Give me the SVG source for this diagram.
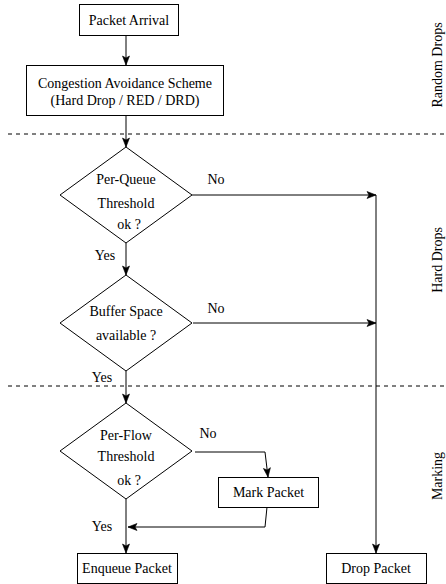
<svg xmlns="http://www.w3.org/2000/svg" width="446" height="584" viewBox="0 0 446 584">
<style>
.box{fill:#fff;stroke:#000;stroke-width:1}
.t{font-family:'Liberation Serif','Times New Roman','DejaVu Serif',serif;font-size:14px;fill:#000;text-anchor:middle}
.c{fill:none;stroke:#000;stroke-width:1}
.d{fill:none;stroke:#000;stroke-width:1;stroke-dasharray:4 4}
</style>
<defs>
<marker id="a" markerUnits="userSpaceOnUse" markerWidth="12" markerHeight="10" refX="10" refY="4" orient="auto">
<path d="M1,0.5 L10,4 L1,7.5 L3,4 Z" fill="#000" stroke="#000" stroke-width="0.6" stroke-linejoin="miter"/>
</marker>
</defs>
<rect width="446" height="584" fill="#fff"/>
<g id="separators">
<line class="d" x1="8" y1="134" x2="446" y2="134"/>
<line class="d" x1="8" y1="386" x2="446" y2="386"/>
</g>
<g id="connectors">
<line class="c" x1="126" y1="35" x2="126" y2="65" marker-end="url(#a)"/>
<line class="c" x1="126" y1="115" x2="126" y2="147" marker-end="url(#a)"/>
<line class="c" x1="126" y1="243" x2="126" y2="275" marker-end="url(#a)"/>
<line class="c" x1="126" y1="371" x2="126" y2="403" marker-end="url(#a)"/>
<line class="c" x1="126" y1="499" x2="126" y2="553" marker-end="url(#a)"/>
<line class="c" x1="192" y1="195" x2="376" y2="195" marker-end="url(#a)"/>
<line class="c" x1="193" y1="323" x2="376" y2="323" marker-end="url(#a)"/>
<line class="c" x1="376" y1="195" x2="376" y2="553" marker-end="url(#a)"/>
<path class="c" d="M195,452 L265,452 L268,477" marker-end="url(#a)"/>
<path class="c" d="M267,507 L265,527 L128,527" marker-end="url(#a)"/>
<text class="t" x="216" y="184">No</text>
<text class="t" x="216" y="313">No</text>
<text class="t" x="208" y="438">No</text>
<text class="t" x="105" y="260">Yes</text>
<text class="t" x="102" y="382">Yes</text>
<text class="t" x="102" y="531">Yes</text>
</g>
<g id="packet-arrival">
<rect class="box" x="79.5" y="4.5" width="99" height="31"/>
<text class="t" x="129" y="24.5">Packet Arrival</text>
</g>
<g id="congestion">
<rect class="box" x="26.5" y="65.5" width="197" height="50"/>
<text class="t" x="125" y="88">Congestion Avoidance Scheme</text>
<text class="t" x="125" y="105">(Hard Drop / RED / DRD)</text>
</g>
<g id="per-queue">
<polygon class="box" points="126,147 192,195 126,243 60,195"/>
<text class="t" x="126" y="184">Per-Queue</text>
<text class="t" x="126" y="208">Threshold</text>
<text class="t" x="129" y="229">ok ?</text>
</g>
<g id="buffer-space">
<polygon class="box" points="126,275 192,323 126,371 60,323"/>
<text class="t" x="126" y="316">Buffer Space</text>
<text class="t" x="126" y="340">available ?</text>
</g>
<g id="per-flow">
<polygon class="box" points="126,403 192,451 126,499 60,451"/>
<text class="t" x="126" y="440">Per-Flow</text>
<text class="t" x="126" y="461">Threshold</text>
<text class="t" x="129" y="485">ok ?</text>
</g>
<g id="mark-packet">
<rect class="box" x="218.5" y="477.5" width="100" height="30"/>
<text class="t" x="268.5" y="497">Mark Packet</text>
</g>
<g id="enqueue-packet">
<rect class="box" x="77.5" y="553.5" width="100" height="30"/>
<text class="t" x="127" y="573">Enqueue Packet</text>
</g>
<g id="drop-packet">
<rect class="box" x="326.5" y="553.5" width="100" height="30"/>
<text class="t" x="376" y="573">Drop Packet</text>
</g>
<g id="labels">
<text class="t" transform="translate(442,65) rotate(-90)">Random Drops</text>
<text class="t" transform="translate(442,260) rotate(-90)">Hard Drops</text>
<text class="t" transform="translate(442,476) rotate(-90)">Marking</text>
</g>
</svg>
